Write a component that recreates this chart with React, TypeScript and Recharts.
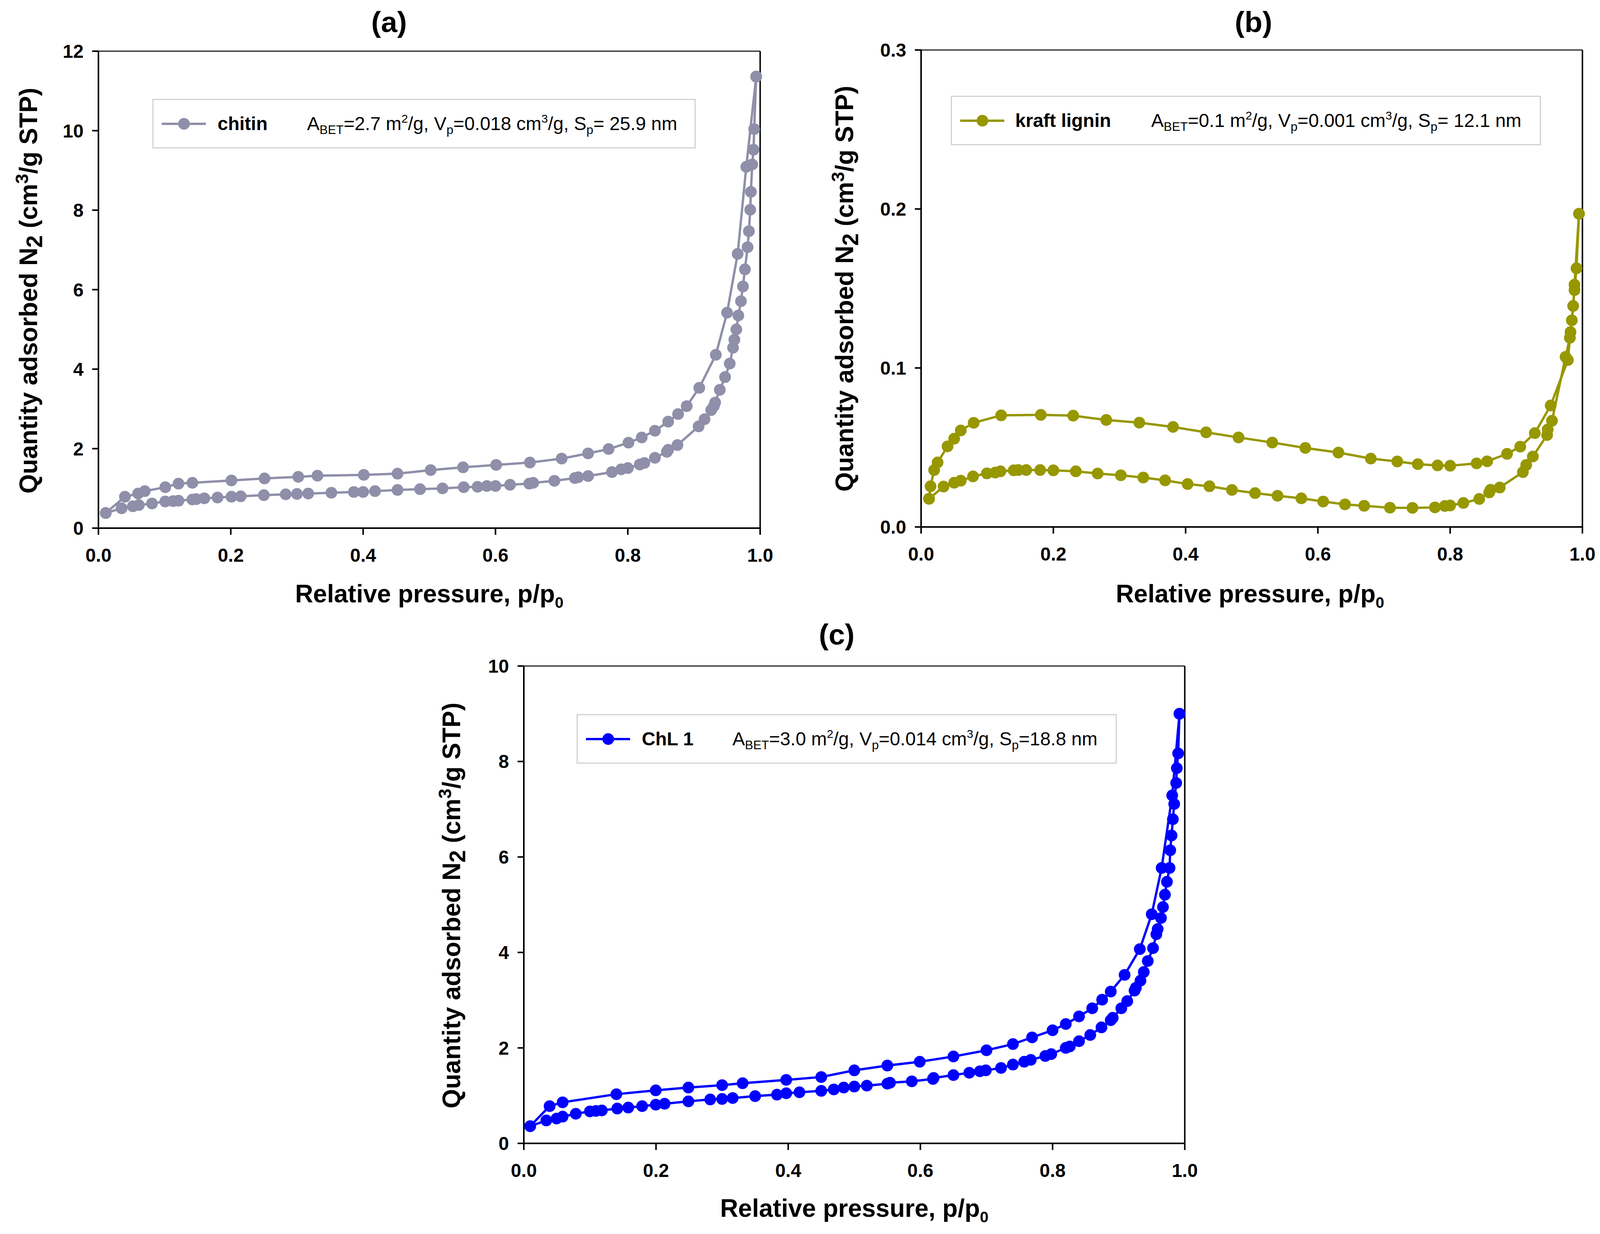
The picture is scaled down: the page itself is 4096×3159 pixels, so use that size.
import React from "react";
import { LineChart, Line, XAxis, YAxis, ReferenceLine } from "recharts";

const FONT = "'Liberation Sans', Arial, Helvetica, sans-serif";

const X_TICKS = [0, 0.2, 0.4, 0.6, 0.8, 1.0];

// (a) chitin
const chitinAdsX = [0.011, 0.035, 0.052, 0.061, 0.081, 0.101, 0.113, 0.121, 0.142, 0.148, 0.16, 0.18, 0.201, 0.215, 0.25, 0.283, 0.3, 0.317, 0.352, 0.386, 0.4, 0.418, 0.452, 0.486, 0.52, 0.552, 0.573, 0.587, 0.6, 0.622, 0.651, 0.657, 0.689, 0.72, 0.725, 0.74, 0.776, 0.79, 0.8, 0.818, 0.825, 0.841, 0.859, 0.861, 0.875, 0.907, 0.916, 0.926, 0.93, 0.932, 0.939, 0.947, 0.954, 0.959, 0.961, 0.964, 0.967, 0.971, 0.974, 0.977, 0.981, 0.983, 0.985, 0.986, 0.988, 0.99, 0.991, 0.994];
const chitinAdsY = [0.38, 0.5, 0.55, 0.58, 0.62, 0.67, 0.68, 0.69, 0.72, 0.73, 0.75, 0.77, 0.79, 0.8, 0.83, 0.85, 0.86, 0.87, 0.89, 0.91, 0.91, 0.93, 0.96, 0.98, 1.0, 1.03, 1.04, 1.06, 1.06, 1.09, 1.12, 1.14, 1.19, 1.26, 1.28, 1.31, 1.41, 1.48, 1.51, 1.6, 1.64, 1.77, 1.92, 1.97, 2.09, 2.56, 2.74, 2.97, 3.07, 3.16, 3.48, 3.8, 4.14, 4.54, 4.74, 5.0, 5.35, 5.71, 6.08, 6.51, 7.07, 7.47, 8.01, 8.46, 9.15, 9.52, 10.04, 11.36];
const chitinDesX = [0.994, 0.979, 0.966, 0.95, 0.933, 0.908, 0.889, 0.876, 0.861, 0.841, 0.821, 0.801, 0.771, 0.74, 0.7, 0.652, 0.601, 0.551, 0.502, 0.452, 0.401, 0.331, 0.302, 0.251, 0.201, 0.142, 0.121, 0.101, 0.07, 0.06, 0.04, 0.011];
const chitinDesY = [11.36, 9.09, 6.9, 5.42, 4.36, 3.53, 3.07, 2.87, 2.68, 2.45, 2.28, 2.15, 1.99, 1.88, 1.75, 1.65, 1.59, 1.53, 1.46, 1.37, 1.34, 1.32, 1.29, 1.25, 1.2, 1.14, 1.12, 1.03, 0.93, 0.87, 0.79, 0.38];

// (b) kraft lignin
const ligninAdsX = [0.012, 0.034, 0.05, 0.06, 0.0785, 0.0995, 0.112, 0.12, 0.14, 0.147, 0.159, 0.18, 0.2, 0.234, 0.267, 0.302, 0.336, 0.369, 0.403, 0.436, 0.47, 0.505, 0.539, 0.575, 0.608, 0.641, 0.67, 0.709, 0.743, 0.777, 0.792, 0.8, 0.82, 0.844, 0.859, 0.861, 0.875, 0.91, 0.915, 0.925, 0.9466, 0.9475, 0.954, 0.9745, 0.981, 0.984, 0.988, 0.991, 0.9948];
const ligninAdsY = [0.0177, 0.0254, 0.0278, 0.0291, 0.0318, 0.0337, 0.0342, 0.035, 0.0356, 0.0358, 0.0358, 0.0358, 0.0356, 0.035, 0.0336, 0.0325, 0.0311, 0.0293, 0.027, 0.0256, 0.0233, 0.0213, 0.0196, 0.018, 0.016, 0.0142, 0.0133, 0.0121, 0.012, 0.0123, 0.0132, 0.0135, 0.0151, 0.0176, 0.0217, 0.0234, 0.0248, 0.0345, 0.039, 0.0443, 0.0578, 0.0613, 0.0668, 0.107, 0.119, 0.13, 0.149, 0.1627, 0.197];
const ligninDesX = [0.9948, 0.988, 0.986, 0.982, 0.978, 0.952, 0.928, 0.906, 0.886, 0.856, 0.84, 0.8, 0.781, 0.751, 0.72, 0.68, 0.631, 0.581, 0.531, 0.48, 0.431, 0.381, 0.33, 0.28, 0.23, 0.181, 0.121, 0.0795, 0.06, 0.05, 0.04, 0.025, 0.0197, 0.0143, 0.012];
const ligninDesY = [0.197, 0.1524, 0.139, 0.1226, 0.105, 0.0764, 0.059, 0.0505, 0.046, 0.0413, 0.04, 0.0385, 0.0387, 0.0395, 0.0412, 0.043, 0.0468, 0.0497, 0.0531, 0.0563, 0.0595, 0.0629, 0.0656, 0.0673, 0.07, 0.0705, 0.0702, 0.0655, 0.0607, 0.0555, 0.0507, 0.0406, 0.0358, 0.0256, 0.0177];

// (c) ChL 1
const chlAdsX = [0.0096, 0.034, 0.0496, 0.0587, 0.0786, 0.1, 0.109, 0.118, 0.1414, 0.158, 0.179, 0.1996, 0.213, 0.249, 0.282, 0.3, 0.316, 0.35, 0.383, 0.397, 0.417, 0.45, 0.469, 0.484, 0.5, 0.519, 0.55, 0.554, 0.587, 0.619, 0.62, 0.65, 0.674, 0.69, 0.699, 0.722, 0.74, 0.757, 0.767, 0.789, 0.798, 0.82, 0.826, 0.84, 0.857, 0.874, 0.888, 0.891, 0.904, 0.913, 0.924, 0.926, 0.933, 0.938, 0.944, 0.952, 0.957, 0.959, 0.964, 0.967, 0.97, 0.973, 0.977, 0.978, 0.98, 0.982, 0.984, 0.987, 0.988, 0.99, 0.992];
const chlAdsY = [0.36, 0.48, 0.52, 0.56, 0.62, 0.67, 0.68, 0.69, 0.73, 0.75, 0.78, 0.81, 0.83, 0.88, 0.92, 0.93, 0.95, 0.99, 1.02, 1.05, 1.07, 1.1, 1.13, 1.17, 1.19, 1.21, 1.25, 1.27, 1.3, 1.35, 1.37, 1.43, 1.48, 1.51, 1.53, 1.58, 1.65, 1.71, 1.75, 1.83, 1.87, 2.0, 2.03, 2.14, 2.27, 2.43, 2.58, 2.63, 2.83, 2.98, 3.2, 3.26, 3.41, 3.59, 3.82, 4.09, 4.38, 4.49, 4.72, 4.95, 5.21, 5.48, 5.77, 6.14, 6.45, 6.79, 7.11, 7.55, 7.86, 8.17, 9.0];
const chlDesX = [0.992, 0.981, 0.965, 0.95, 0.932, 0.909, 0.888, 0.875, 0.86, 0.84, 0.82, 0.8, 0.769, 0.74, 0.7, 0.65, 0.599, 0.55, 0.5, 0.45, 0.397, 0.331, 0.3, 0.249, 0.1996, 0.14, 0.0587, 0.039, 0.0096];
const chlDesY = [9.0, 7.29, 5.77, 4.8, 4.07, 3.53, 3.18, 3.01, 2.83, 2.66, 2.5, 2.37, 2.22, 2.08, 1.95, 1.82, 1.71, 1.63, 1.53, 1.39, 1.33, 1.26, 1.22, 1.17, 1.11, 1.03, 0.86, 0.78, 0.36];

const zip = (xs: number[], ys: number[]) => xs.map((x, i) => ({ x, y: ys[i] }));

const YAXIS_W = 200;
const XAXIS_H = 200;
const DOT_R = 15;
const LINE_W = 6;

type Stats = { abet: string; vp: string; sp: string };

interface PanelProps {
  left: number;
  top: number;
  width: number;
  height: number;
  plot: { x0: number; y0: number; x1: number; y1: number };
  yDomain: [number, number];
  yTicks: number[];
  yFmt: (v: number) => string;
  color: string;
  ads: { x: number; y: number }[];
  des: { x: number; y: number }[];
}

function Panel({ left, top, width, height, plot, yDomain, yTicks, yFmt, color, ads, des }: PanelProps) {
  const margin = {
    top: plot.y0 - top,
    left: plot.x0 - left - YAXIS_W,
    right: left + width - plot.x1,
    bottom: top + height - plot.y1 - XAXIS_H,
  };
  const tick = { fill: "#000", fontSize: 48, fontWeight: 700, fontFamily: FONT };
  const axisLine = { stroke: "#000", strokeWidth: 4 };
  const dot = { r: DOT_R, fill: color, stroke: color, strokeWidth: 0 };
  return (
    <div style={{ position: "absolute", left, top, width, height }}>
      <LineChart width={width} height={height} margin={margin}>
        <XAxis
          type="number"
          dataKey="x"
          domain={[0, 1]}
          ticks={X_TICKS}
          interval={0}
          tickFormatter={(v: number) => v.toFixed(1)}
          height={XAXIS_H}
          tick={tick}
          tickSize={17}
          tickMargin={35}
          axisLine={axisLine}
          tickLine={axisLine}
        />
        <YAxis
          type="number"
          domain={yDomain}
          ticks={yTicks}
          interval={0}
          tickFormatter={yFmt}
          width={YAXIS_W}
          tick={tick}
          tickSize={16}
          tickMargin={22}
          axisLine={axisLine}
          tickLine={axisLine}
        />
        <ReferenceLine y={yDomain[1]} stroke="#222" strokeWidth={3} />
        <ReferenceLine x={1} stroke="#111" strokeWidth={4} />
        <Line data={ads} dataKey="y" type="linear" stroke={color} strokeWidth={LINE_W} dot={dot} activeDot={false} isAnimationActive={false} />
        <Line data={des} dataKey="y" type="linear" stroke={color} strokeWidth={LINE_W} dot={dot} activeDot={false} isAnimationActive={false} />
      </LineChart>
    </div>
  );
}

const sub = { fontSize: "0.66em", position: "relative" as const, top: "0.32em" };
const sup = { fontSize: "0.62em", position: "relative" as const, top: "-0.62em" };

function LegendBox({ left, top, width, color, name, nameAt, statsAt, stats }: {
  left: number; top: number; width: number; color: string; name: string; nameAt: number; statsAt: number; stats: Stats;
}) {
  const h = 127;
  const textStyle = { position: "absolute" as const, top: "50%", transform: "translateY(-50%)", lineHeight: 1, whiteSpace: "nowrap" as const };
  return (
    <div style={{ position: "absolute", left, top, width, height: h, border: "3px solid #d2d2d2", boxSizing: "border-box", background: "#fff", fontSize: 48, color: "#000", fontFamily: FONT }}>
      <svg width={120} height={34} style={{ position: "absolute", left: 21, top: h / 2 - 20 }}>
        <line x1={0} y1={17} x2={113} y2={17} stroke={color} strokeWidth={LINE_W} />
        <circle cx={57} cy={17} r={DOT_R} fill={color} />
      </svg>
      <span style={{ ...textStyle, left: nameAt, fontWeight: 700 }}>{name}</span>
      <span style={{ ...textStyle, left: statsAt }}>
        A<span style={sub}>BET</span>={stats.abet} m<span style={sup}>2</span>/g, V<span style={sub}>p</span>={stats.vp} cm
        <span style={sup}>3</span>/g, S<span style={sub}>p</span>={stats.sp} nm
      </span>
    </div>
  );
}

function PanelTitle({ x, y, text }: { x: number; y: number; text: string }) {
  return (
    <div style={{ position: "absolute", left: x, top: y, transform: "translate(-50%,-50%)", fontSize: 75, fontWeight: 700, fontFamily: FONT, lineHeight: 1, whiteSpace: "nowrap" }}>
      {text}
    </div>
  );
}

function XTitle({ x, y }: { x: number; y: number }) {
  return (
    <div style={{ position: "absolute", left: x, top: y, transform: "translate(-50%,-50%)", fontSize: 64, fontWeight: 700, fontFamily: FONT, lineHeight: 1, whiteSpace: "nowrap" }}>
      Relative pressure, p/p<span style={{ fontSize: "0.62em", position: "relative", top: "0.35em" }}>0</span>
    </div>
  );
}

function YTitle({ x, y }: { x: number; y: number }) {
  return (
    <div style={{ position: "absolute", left: x, top: y, transform: "translate(-50%,-50%) rotate(-90deg)", fontSize: 64, fontWeight: 700, fontFamily: FONT, lineHeight: 1, whiteSpace: "nowrap" }}>
      Quantity adsorbed N<span style={{ fontSize: "0.9em", position: "relative", top: "0.22em" }}>2</span> (cm
      <span style={{ fontSize: "0.72em", position: "relative", top: "-0.5em" }}>3</span>/g STP)
    </div>
  );
}

export default function App() {
  return (
    <div style={{ position: "absolute", left: 0, top: 0, width: 4096, height: 3159, background: "#fff", overflow: "hidden", fontFamily: FONT }}>
      <Panel
        left={0}
        top={0}
        width={2050}
        height={1600}
        plot={{ x0: 252, y0: 131, x1: 1946, y1: 1352 }}
        yDomain={[0, 12]}
        yTicks={[0, 2, 4, 6, 8, 10, 12]}
        yFmt={(v) => String(v)}
        color="#8F8FAA"
        ads={zip(chitinAdsX, chitinAdsY)}
        des={zip(chitinDesX, chitinDesY)}
      />
      <Panel
        left={2050}
        top={0}
        width={2046}
        height={1600}
        plot={{ x0: 2358, y0: 128, x1: 4051, y1: 1349 }}
        yDomain={[0, 0.3]}
        yTicks={[0, 0.1, 0.2, 0.3]}
        yFmt={(v) => v.toFixed(1)}
        color="#979700"
        ads={zip(ligninAdsX, ligninAdsY)}
        des={zip(ligninDesX, ligninDesY)}
      />
      <Panel
        left={1000}
        top={1580}
        width={2200}
        height={1579}
        plot={{ x0: 1341, y0: 1705, x1: 3033, y1: 2927 }}
        yDomain={[0, 10]}
        yTicks={[0, 2, 4, 6, 8, 10]}
        yFmt={(v) => String(v)}
        color="#0000FF"
        ads={zip(chlAdsX, chlAdsY)}
        des={zip(chlDesX, chlDesY)}
      />

      <PanelTitle x={996} y={56} text="(a)" />
      <PanelTitle x={3209} y={56} text="(b)" />
      <PanelTitle x={2142} y={1624} text="(c)" />

      <LegendBox left={390} top={253} width={1391} color="#8F8FAA" name="chitin" nameAt={164} statsAt={393} stats={{ abet: "2.7", vp: "0.018", sp: " 25.9" }} />
      <LegendBox left={2434} top={245} width={1511} color="#979700" name="kraft lignin" nameAt={162} statsAt={510} stats={{ abet: "0.1", vp: "0.001", sp: " 12.1" }} />
      <LegendBox left={1476} top={1828} width={1383} color="#0000FF" name="ChL 1" nameAt={164} statsAt={396} stats={{ abet: "3.0", vp: "0.014", sp: "18.8" }} />

      <XTitle x={1099} y={1520} />
      <XTitle x={3200} y={1520} />
      <XTitle x={2187} y={3093} />
      <YTitle x={73} y={744} />
      <YTitle x={2162} y={739} />
      <YTitle x={1156} y={2318} />
    </div>
  );
}
